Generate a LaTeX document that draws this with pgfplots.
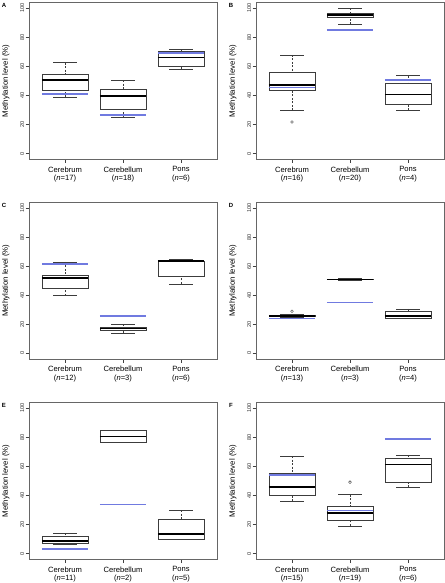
\documentclass[border=0pt]{standalone}
\usepackage{pgfplots}
\pgfplotsset{compat=1.18}
\usepgfplotslibrary{statistics}
\usepackage{fontspec}
\setmainfont{Liberation Sans}
\definecolor{boxc}{RGB}{60,60,60}
\definecolor{refblue}{RGB}{112,122,224}
\pgfplotsset{
  boxplot/draw/lower whisker/.code={%
    \draw[boxc, line width=0.5pt, dash pattern=on 2pt off 1.5pt]
      (boxplot box cs:\pgfplotsboxplotvalue{lower whisker},0.5) --
      (boxplot box cs:\pgfplotsboxplotvalue{lower quartile},0.5);
    \draw[boxc, line width=0.5pt]
      (boxplot box cs:\pgfplotsboxplotvalue{lower whisker},0.25) --
      (boxplot box cs:\pgfplotsboxplotvalue{lower whisker},0.75);
  },
  boxplot/draw/upper whisker/.code={%
    \draw[boxc, line width=0.5pt, dash pattern=on 2pt off 1.5pt]
      (boxplot box cs:\pgfplotsboxplotvalue{upper whisker},0.5) --
      (boxplot box cs:\pgfplotsboxplotvalue{upper quartile},0.5);
    \draw[boxc, line width=0.5pt]
      (boxplot box cs:\pgfplotsboxplotvalue{upper whisker},0.25) --
      (boxplot box cs:\pgfplotsboxplotvalue{upper whisker},0.75);
  },
  rbox/.style={
    xmin=0.38, xmax=3.62, ymin=-4, ymax=104,
    scale only axis, width=188pt, height=157pt,
    anchor=south west,
    xtick={1,2,3}, ytick={0,20,40,60,80,100},
    tick align=outside, major tick length=3.5pt,
    tick style={black!75, line width=0.4pt},
    axis line style={black!60, line width=0.5pt},
    xtick pos=bottom, ytick pos=left,
    yticklabel style={rotate=90, anchor=south, font=\fontsize{5.6}{6}\selectfont, text=black!80, inner sep=1pt},
    xticklabel style={align=center, font=\fontsize{7.6}{8.4}\selectfont, inner sep=1.5pt, yshift=-2pt},
    ylabel={Methylation level (\%)},
    ylabel style={at={(axis description cs:-0.085,0.5)}, anchor=south, font=\fontsize{7.8}{9}\selectfont},
    clip=false,
    /pgf/number format/assume math mode=true,
    boxplot/draw direction=y,
    boxplot/box extend=0.8,
    boxplot/every box/.style={draw=boxc, line width=0.5pt},
    boxplot/every median/.style={black, line width=1.5pt},
  },
  bx/.style={boxc, mark=o, mark size=1.4pt, mark options={boxc, line width=0.4pt, solid}},
  bl/.style={draw=refblue, line width=1.7pt, mark=none},
}
\newcommand{\plab}[1]{\node[font=\fontsize{6}{6}\selectfont\bfseries] at (rel axis cs:0,1) [xshift=-25pt, yshift=-3pt] {#1};}
\begin{document}
\begin{tikzpicture}
\path[use as bounding box] (0pt,0pt) rectangle (444pt,583pt);
% ---------------- A
\begin{axis}[rbox, at={(29pt,423.5pt)},
  xticklabels={{Cerebrum\\(\textit{n}=17)},{Cerebellum\\(\textit{n}=18)},{Pons\\(\textit{n}=6)}}]
\addplot[bx, boxplot prepared={draw position=1, lower whisker=38.7, lower quartile=43.9, median=50.6, upper quartile=54.7, upper whisker=62.7}] coordinates {};
\addplot[bx, boxplot prepared={draw position=2, lower whisker=24.9, lower quartile=30.9, median=39.6, upper quartile=44.6, upper whisker=50.6}] coordinates {};
\addplot[bx, boxplot prepared={draw position=3, lower whisker=58.4, lower quartile=60.4, median=66.1, upper quartile=70.7, upper whisker=71.6}] coordinates {};
\addplot[bl] coordinates {(0.6,41.2) (1.4,41.2)};
\addplot[bl] coordinates {(1.6,26.5) (2.4,26.5)};
\addplot[bl] coordinates {(2.6,69.1) (3.4,69.1)};
\plab{A}
\end{axis}
% ---------------- B
\begin{axis}[rbox, at={(256pt,423.5pt)},
  xticklabels={{Cerebrum\\(\textit{n}=16)},{Cerebellum\\(\textit{n}=20)},{Pons\\(\textit{n}=4)}}]
\addplot[bx, boxplot prepared={draw position=1, lower whisker=30.0, lower quartile=43.8, median=47.2, upper quartile=56.2, upper whisker=67.9}] table[row sep=\\, y index=0] {21.8\\};
\addplot[bx, boxplot prepared={draw position=2, lower whisker=89.0, lower quartile=94.0, median=95.4, upper quartile=96.8, upper whisker=100}] coordinates {};
\addplot[bx, boxplot prepared={draw position=3, lower whisker=30.0, lower quartile=34.2, median=40.8, upper quartile=48.4, upper whisker=53.7}] coordinates {};
\addplot[bl] coordinates {(0.6,45.6) (1.4,45.6)};
\addplot[bl] coordinates {(1.6,85.3) (2.4,85.3)};
\addplot[bl] coordinates {(2.6,50.7) (3.4,50.7)};
\plab{B}
\end{axis}
% ---------------- C
\begin{axis}[rbox, at={(29pt,223.8pt)},
  xticklabels={{Cerebrum\\(\textit{n}=12)},{Cerebellum\\(\textit{n}=3)},{Pons\\(\textit{n}=6)}}]
\addplot[bx, boxplot prepared={draw position=1, lower whisker=39.8, lower quartile=44.9, median=51.9, upper quartile=53.8, upper whisker=63.0}] coordinates {};
\addplot[bx, boxplot prepared={draw position=2, lower whisker=14.0, lower quartile=15.8, median=17.2, upper quartile=18.3, upper whisker=19.9}] coordinates {};
\addplot[bx, boxplot prepared={draw position=3, lower whisker=47.8, lower quartile=52.9, median=63.4, upper quartile=63.6, upper whisker=64.8}] coordinates {};
\addplot[bl] coordinates {(0.6,61.6) (1.4,61.6)};
\addplot[bl] coordinates {(1.6,25.6) (2.4,25.6)};
\plab{C}
\end{axis}
% ---------------- D
\begin{axis}[rbox, at={(256pt,223.8pt)},
  xticklabels={{Cerebrum\\(\textit{n}=13)},{Cerebellum\\(\textit{n}=3)},{Pons\\(\textit{n}=4)}}]
\addplot[bx, boxplot prepared={draw position=1, lower whisker=24.9, lower quartile=25.2, median=25.8, upper quartile=26.2, upper whisker=26.6}] table[row sep=\\, y index=0] {29.0\\};
\addplot[bx, boxplot prepared={draw position=2, lower whisker=50.6, lower quartile=50.7, median=50.9, upper quartile=51.1, upper whisker=51.6}] coordinates {};
\addplot[bx, boxplot prepared={draw position=3, lower whisker=23.9, lower quartile=23.9, median=25.7, upper quartile=29.1, upper whisker=30.7}] coordinates {};
\addplot[bl] coordinates {(0.6,24.0) (1.4,24.0)};
\addplot[bl] coordinates {(1.6,34.9) (2.4,34.9)};
\plab{D}
\end{axis}
% ---------------- E
\begin{axis}[rbox, at={(29pt,23.5pt)},
  xticklabels={{Cerebrum\\(\textit{n}=11)},{Cerebellum\\(\textit{n}=2)},{Pons\\(\textit{n}=5)}}]
\addplot[bx, boxplot prepared={draw position=1, lower whisker=6.7, lower quartile=7.1, median=8.7, upper quartile=12.0, upper whisker=14.0}] coordinates {};
\addplot[bx, boxplot prepared={draw position=2, lower whisker=76.8, lower quartile=76.8, median=80.7, upper quartile=84.6, upper whisker=84.6}] coordinates {};
\addplot[bx, boxplot prepared={draw position=3, lower whisker=9.9, lower quartile=9.9, median=13.6, upper quartile=23.4, upper whisker=29.9}] coordinates {};
\addplot[bl] coordinates {(0.6,3.4) (1.4,3.4)};
\addplot[bl] coordinates {(1.6,33.8) (2.4,33.8)};
\plab{E}
\end{axis}
% ---------------- F
\begin{axis}[rbox, at={(256pt,23.5pt)},
  xticklabels={{Cerebrum\\(\textit{n}=15)},{Cerebellum\\(\textit{n}=19)},{Pons\\(\textit{n}=6)}}]
\addplot[bx, boxplot prepared={draw position=1, lower whisker=36.1, lower quartile=40.2, median=46.0, upper quartile=55.4, upper whisker=67.1}] coordinates {};
\addplot[bx, boxplot prepared={draw position=2, lower whisker=19.1, lower quartile=23.0, median=28.0, upper quartile=32.9, upper whisker=40.7}] table[row sep=\\, y index=0] {49.2\\};
\addplot[bx, boxplot prepared={draw position=3, lower whisker=45.7, lower quartile=49.2, median=61.4, upper quartile=65.7, upper whisker=67.8}] coordinates {};
\addplot[bl] coordinates {(0.6,54.0) (1.4,54.0)};
\addplot[bl] coordinates {(1.6,29.7) (2.4,29.7)};
\addplot[bl] coordinates {(2.6,79.1) (3.4,79.1)};
\plab{F}
\end{axis}
\end{tikzpicture}
\end{document}
